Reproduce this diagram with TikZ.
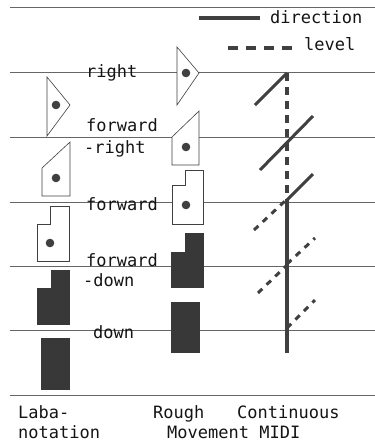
\documentclass[tikz,border=0pt]{standalone}
\usepackage{fontspec}
\setmainfont{DejaVu Sans Mono}
\begin{document}
\begin{tikzpicture}[x=1pt,y=-1pt,
  hline/.style={draw=black!60,line width=0.9pt},
  sym/.style={draw=black!75,line width=0.6pt,fill=white},
  blk/.style={fill=black!78,draw=black!78,line width=0.4pt},
  dotm/.style={fill=black!75},
  dir/.style={draw=black!75,line width=3pt},
  lev/.style={draw=black!75,line width=3pt,dash pattern=on 6pt off 6pt},
  vlev/.style={draw=black!75,line width=4pt,dash pattern=on 8pt off 6pt},
  vdir/.style={draw=black!75,line width=4pt},
  lbl/.style={anchor=base west,inner sep=0pt,text=black!92,font=\fontsize{17}{20}\selectfont}]
\useasboundingbox (0,0) rectangle (375,445);
% horizontal staff lines
\foreach \yy/\nm in {7/l0,72/l1,137/l2,202/l3,266/l4,330/l5,395/l6}{
  \coordinate (\nm a) at (10,\yy);
  \coordinate (\nm b) at (375,\yy);
  \draw[hline] (\nm a) -- (\nm b);
}
% labels on staff
\node[lbl] (tright) at (86,77) {right};
\node[lbl] (tfr1) at (86,131) {forward};
\node[lbl] (tfr2) at (84,153) {-right};
\node[lbl] (tfw) at (86,210) {forward};
\node[lbl] (tfd1) at (86,266) {forward};
\node[lbl] (tfd2) at (83,286) {-down};
\node[lbl] (tdown) at (93,338) {down};
% left column (Labanotation)
\draw[sym] (47,77) -- (70,105) -- (47,136) -- cycle;
\fill[dotm] (56,105) circle (4.3);
\draw[sym] (42,168) -- (70,142) -- (70,196) -- (42,196) -- cycle;
\fill[dotm] (56,178) circle (4.3);
\draw[sym] (50,206) -- (69,206) -- (69,261) -- (37,261) -- (37,224) -- (50,224) -- cycle;
\fill[dotm] (50,243) circle (4.3);
\draw[blk] (51,270) -- (69,270) -- (69,324) -- (37,324) -- (37,288) -- (51,288) -- cycle;
\draw[blk] (41,338) rectangle (69,389);
% middle column (Rough Movement)
\draw[sym] (177,47) -- (199,73) -- (177,105) -- cycle;
\fill[dotm] (186,73) circle (4.3);
\draw[sym] (172,137) -- (199,111) -- (199,165) -- (172,165) -- cycle;
\fill[dotm] (186,147) circle (4.3);
\draw[sym] (185,170) -- (203,170) -- (203,224) -- (172,224) -- (172,185) -- (185,185) -- cycle;
\fill[dotm] (186,205) circle (4.3);
\draw[blk] (185,233) -- (203,233) -- (203,287) -- (171,287) -- (171,252) -- (185,252) -- cycle;
\draw[blk] (171,302) rectangle (199,352);
% right column (Continuous MIDI)
\coordinate (v0) at (287,73);
\coordinate (v1) at (287,200);
\coordinate (v2) at (287,353);
\draw[vlev] (v0) -- (v1);
\draw[vdir] (v1) -- (v2);
\draw[dir] (255,105) -- (v0);
\draw[dir] (260,170) -- (313,116);
\draw[dir] (v1) -- (313,174);
\draw[lev] (254,230) -- (285,201);
\draw[lev] (287,264) -- (315,238);
\draw[lev] (258,293) -- (287,265);
\draw[lev] (287,328) -- (315,300);
% legend
\coordinate (ld0) at (199,18);
\coordinate (ld1) at (260,18);
\draw[vdir] (ld0) -- (ld1);
\node[lbl] (tdir) at (270,23) {direction};
\coordinate (ll0) at (228,48);
\coordinate (ll1) at (294,48);
\draw[draw=black!75,line width=4pt,dash pattern=on 10pt off 8pt] (ll0) -- (ll1);
\node[lbl] (tlev) at (304,50) {level};
% captions
\node[lbl] (c1) at (18,418) {Laba-};
\node[lbl] (c2) at (18,438) {notation};
\node[lbl] (c3) at (153,418) {Rough};
\node[lbl] (c4) at (237,418) {Continuous};
\node[lbl] (c5) at (167,438) {Movement MIDI};
\end{tikzpicture}
\end{document}
